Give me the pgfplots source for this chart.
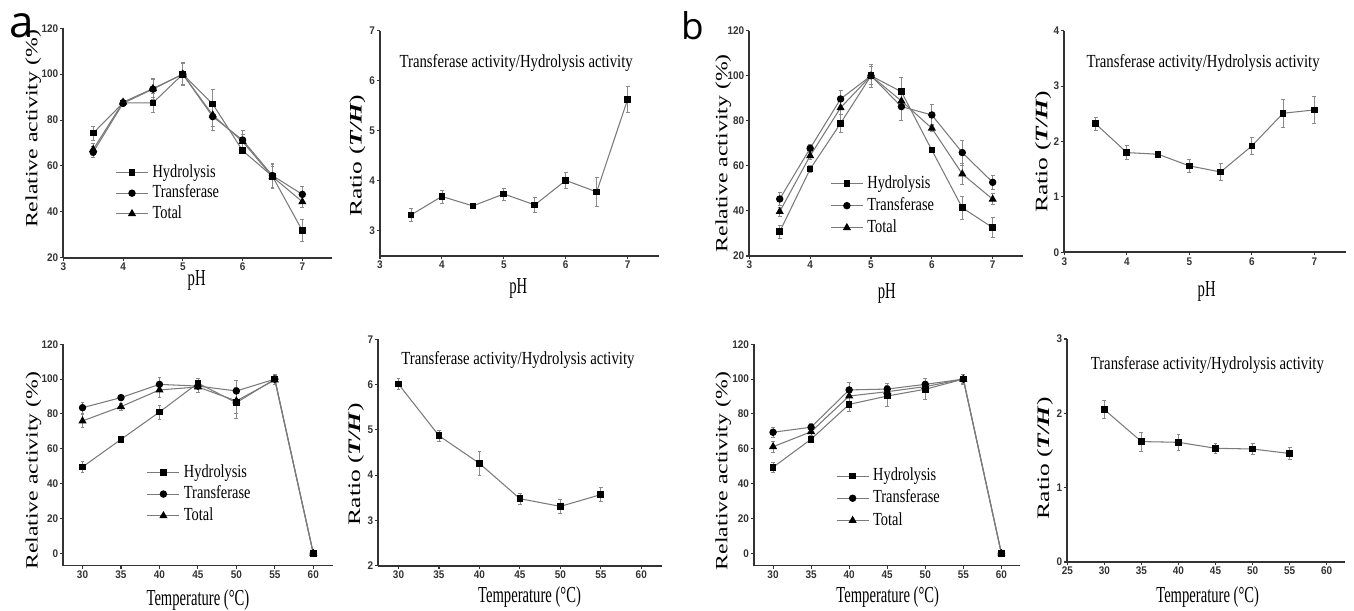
\documentclass[border=0pt]{standalone}
\usepackage{fontspec}
\setmainfont{Liberation Serif}
\newfontfamily\xlabfont{Liberation Serif}[FakeStretch=0.64]
\newfontfamily\titlefont{Liberation Serif}[FakeStretch=0.8]
\newfontfamily\legfont{Liberation Serif}[FakeStretch=0.78]
\newfontfamily\ylabfont{Liberation Serif}[FakeStretch=1.38]
\newfontfamily\ratiofont{Liberation Serif}[FakeStretch=1.45]
\newfontfamily\tickfont{Liberation Sans}[FakeStretch=0.9]
\newfontfamily\letterfont{Open Sans}
\usepackage{pgfplots}
\pgfplotsset{compat=1.18}

\definecolor{lineGray}{HTML}{7A7A7A}
\definecolor{axisGray}{HTML}{333333}
\definecolor{errGray}{HTML}{8A8A8A}

\pgfplotsset{
  panel/.style={
    scale only axis, anchor=south west,
    axis x line*=bottom, axis y line*=left,
    xtick pos=bottom, ytick pos=left,
    axis line style={line width=1pt, draw=axisGray},
    every tick/.style={line width=0.6pt, draw=axisGray},
    tick align=outside, major tick length=0.06cm,
    tick label style={font=\tickfont\bfseries\fontsize{6.3}{7}\selectfont, text=axisGray},
    /pgf/number format/assume math mode=true,
    xticklabel style={inner sep=1pt},
    yticklabel style={inner sep=1pt},
    clip=false,
  },
  actlab/.style={ylabel={Relative activity (\%)},
    ylabel style={font=\ylabfont\fontsize{9.8}{10}\selectfont, anchor=center}},
  ratiolab/.style={ylabel={Ratio (\textbf{\textit{T/H}})},
    ylabel style={font=\ratiofont\fontsize{10}{11}\selectfont, anchor=center}},
  phlab/.style={xlabel={pH},
    xlabel style={font=\xlabfont\fontsize{13}{14}\selectfont, anchor=center}},
  templab/.style={xlabel={Temperature (°C)},
    xlabel style={font=\xlabfont\fontsize{13}{14}\selectfont, anchor=center}},
  leg/.style={
    legend cell align=left,
    legend image code/.code={\draw[mark repeat=2,mark phase=2]
      plot coordinates {(0cm,0cm) (0.32cm,0cm) (0.64cm,0cm)};},
    legend style={draw=none, fill=none, inner sep=0pt, anchor=north west,
      column sep=0.08cm,
      nodes={inner sep=0pt, text height=7.5pt, text depth=2.2pt,
             font=\legfont\fontsize{10.5}{11}\selectfont}},
  },
  series/.style={draw=lineGray, line width=0.6pt,
    mark options={draw=black, fill=black, solid},
    error bars/y dir=both, error bars/y explicit,
    error bars/error bar style={draw=errGray, line width=0.45pt},
    error bars/error mark options={draw=errGray, line width=0.45pt, mark size=1.1pt, rotate=90}},
  hyd/.style={series, mark=square*, mark size=1.6pt},
  tra/.style={series, mark=*, mark size=1.8pt},
  tot/.style={series, mark=triangle*, mark size=2.1pt},
}

\begin{document}
\begin{tikzpicture}
\useasboundingbox (0,0) rectangle (27.08,-12.22);

\node[font=\letterfont\fontsize{25}{25}\selectfont, anchor=center] at (0.44,-0.52) {a};
\node[font=\letterfont\fontsize{21}{21}\selectfont, anchor=center] at (13.86,-0.52) {b};

% ---------------- a: pH activity
\begin{axis}[panel, actlab, phlab, leg,
  at={(1.266cm,-5.154cm)}, width=5.378cm, height=4.588cm,
  xmin=3, xmax=7.5, ymin=20, ymax=120,
  xtick={3,4,5,6,7}, ytick={20,40,60,80,100,120},
  ylabel style={at={(rel axis cs:-0.112,0.561)}},
  xlabel style={at={(rel axis cs:0.496,0)}, yshift=-0.446cm},
  legend style={at={(axis cs:3.867,60.93)}, row sep=0.069cm},
]
\addplot[hyd] coordinates {
  (3.5,74.3) +- (0,3) (4,87.5) +- (0,1.5) (4.5,87.5) +- (0,4) (5,100) +- (0,5)
  (5.5,87) +- (0,6.4) (6,66.7) +- (0,1.2) (6.5,55.5) +- (0,5.5) (7,31.8) +- (0,4.7)};
\addplot[tra] coordinates {
  (3.5,66) +- (0,2.4) (4,87.3) +- (0,1.2) (4.5,93.5) +- (0,4.7) (5,100) +- (0,5)
  (5.5,81.5) +- (0,5.8) (6,71.3) +- (0,4.4) (6.5,55.8) +- (0,5) (7,47.6) +- (0,3.4)};
\addplot[tot] coordinates {
  (3.5,67.2) +- (0,2.5) (4,87.8) +- (0,1.2) (4.5,93.7) +- (0,4) (5,100) +- (0,4.5)
  (5.5,82.2) +- (0,5) (6,70.6) +- (0,3) (6.5,55.3) +- (0,4.5) (7,44.4) +- (0,2.5)};
\legend{Hydrolysis,Transferase,Total}
\end{axis}

% ---------------- a: pH ratio
\begin{axis}[panel, ratiolab, phlab,
  at={(7.6cm,-5.12cm)}, width=5.572cm, height=4.506cm,
  xmin=3, xmax=7.5, ymin=2.5, ymax=7,
  xtick={3,4,5,6,7}, ytick={3,4,5,6,7},
  ylabel style={at={(rel axis cs:-0.081,0.445)}},
  xlabel style={at={(rel axis cs:0.496,0)}, yshift=-0.64cm},
]
\addplot[hyd] coordinates {
  (3.5,3.32) +- (0,0.13) (4,3.69) +- (0,0.13) (4.5,3.50) +- (0,0.05) (5,3.74) +- (0,0.12)
  (5.5,3.52) +- (0,0.15) (6,4.01) +- (0,0.16) (6.5,3.78) +- (0,0.29) (7,5.63) +- (0,0.26)};
\node[font=\titlefont\fontsize{10.5}{11}\selectfont] at (axis cs:5.2,6.355)
  {Transferase activity/Hydrolysis activity};
\end{axis}

% ---------------- a: temperature activity
\begin{axis}[panel, actlab, templab, leg,
  at={(1.266cm,-11.31cm)}, width=5.384cm, height=4.424cm,
  xmin=27.5, xmax=62.5, ymin=-7, ymax=120,
  xtick={30,35,...,60}, ytick={0,20,...,120},
  ylabel style={at={(rel axis cs:-0.111,0.428)}},
  xlabel style={at={(rel axis cs:0.5,0)}, yshift=-0.7cm},
  legend style={at={(axis cs:38.32,51.57)}, row sep=0.093cm},
]
\addplot[hyd] coordinates {
  (30,49.6) +- (0,3) (35,65.4) +- (0,1) (40,81.1) +- (0,4) (45,97.7) +- (0,3)
  (50,86.5) +- (0,9) (55,100) +- (0,3) (60,0) +- (0,0)};
\addplot[tra] coordinates {
  (30,83.6) +- (0,3) (35,89.4) +- (0,1.5) (40,97) +- (0,4) (45,96) +- (0,3.5)
  (50,93.2) +- (0,6) (55,100) +- (0,3) (60,0) +- (0,0)};
\addplot[tot] coordinates {
  (30,76) +- (0,3.5) (35,84.2) +- (0,2) (40,93.8) +- (0,4.5) (45,95.5) +- (0,3)
  (50,87.5) +- (0,7) (55,99.5) +- (0,2.5) (60,0) +- (0,0)};
\legend{Hydrolysis,Transferase,Total}
\end{axis}

% ---------------- a: temperature ratio
\begin{axis}[panel, ratiolab, templab,
  at={(7.566cm,-11.314cm)}, width=5.664cm, height=4.528cm,
  xmin=27.5, xmax=62.5, ymin=2, ymax=7,
  xtick={30,35,...,60}, ytick={2,3,4,5,6,7},
  ylabel style={at={(rel axis cs:-0.079,0.448)}},
  xlabel style={at={(rel axis cs:0.534,0)}, yshift=-0.62cm},
]
\addplot[hyd] coordinates {
  (30,6.01) +- (0,0.12) (35,4.87) +- (0,0.12) (40,4.26) +- (0,0.27)
  (45,3.48) +- (0,0.12) (50,3.31) +- (0,0.15) (55,3.57) +- (0,0.15)};
\node[font=\titlefont\fontsize{10.5}{11}\selectfont] at (axis cs:44.76,6.54)
  {Transferase activity/Hydrolysis activity};
\end{axis}

% ---------------- b: pH activity
\begin{axis}[panel, actlab, phlab, leg,
  at={(14.986cm,-5.12cm)}, width=5.476cm, height=4.506cm,
  xmin=3, xmax=7.5, ymin=20, ymax=120,
  xtick={3,4,5,6,7}, ytick={20,40,60,80,100,120},
  ylabel style={at={(rel axis cs:-0.095,0.456)}},
  xlabel style={at={(rel axis cs:0.502,0)}, yshift=-0.746cm},
  legend style={at={(axis cs:4.326,56.04)}, row sep=0.099cm},
]
\addplot[hyd] coordinates {
  (3.5,30.8) +- (0,3) (4,58.6) +- (0,1.5) (4.5,78.9) +- (0,4) (5,100) +- (0,5)
  (5.5,92.9) +- (0,6.5) (6,67) +- (0,1) (6.5,41.4) +- (0,5) (7,32.6) +- (0,4.5)};
\addplot[tra] coordinates {
  (3.5,45.3) +- (0,3) (4,67.8) +- (0,1.8) (4.5,89.7) +- (0,4) (5,100) +- (0,5)
  (5.5,86.3) +- (0,6) (6,82.6) +- (0,4.5) (6.5,65.9) +- (0,5.5) (7,52.7) +- (0,3)};
\addplot[tot] coordinates {
  (3.5,39.7) +- (0,2) (4,64.5) +- (0,1.5) (4.5,85.8) +- (0,3) (5,100) +- (0,4)
  (5.5,88.8) +- (0,3) (6,76.7) +- (0,1.5) (6.5,56.4) +- (0,4.5) (7,45.2) +- (0,2.5)};
\legend{Hydrolysis,Transferase,Total}
\end{axis}

% ---------------- b: pH ratio
\begin{axis}[panel, ratiolab, phlab,
  at={(21.286cm,-5.046cm)}, width=5.626cm, height=4.432cm,
  xmin=3, xmax=7.5, ymin=0, ymax=4,
  xtick={3,4,5,6,7}, ytick={0,1,2,3,4},
  ylabel style={at={(rel axis cs:-0.075,0.454)}},
  xlabel style={at={(rel axis cs:0.506,0)}, yshift=-0.786cm},
]
\addplot[hyd] coordinates {
  (3.5,2.32) +- (0,0.12) (4,1.80) +- (0,0.13) (4.5,1.77) +- (0,0.06) (5,1.56) +- (0,0.12)
  (5.5,1.45) +- (0,0.15) (6,1.92) +- (0,0.15) (6.5,2.51) +- (0,0.25) (7,2.57) +- (0,0.25)};
\node[font=\titlefont\fontsize{10.5}{11}\selectfont] at (axis cs:5.22,3.41)
  {Transferase activity/Hydrolysis activity};
\end{axis}

% ---------------- b: temperature activity
\begin{axis}[panel, actlab, templab, leg,
  at={(15.08cm,-11.31cm)}, width=5.328cm, height=4.424cm,
  xmin=27.5, xmax=62.5, ymin=-7, ymax=120,
  xtick={30,35,...,60}, ytick={0,20,...,120},
  ylabel style={at={(rel axis cs:-0.115,0.427)}},
  xlabel style={at={(rel axis cs:0.502,0)}, yshift=-0.634cm},
  legend style={at={(axis cs:38.24,49.45)}, row sep=0.103cm},
]
\addplot[hyd] coordinates {
  (30,49.4) +- (0,3) (35,65.5) +- (0,1) (40,85.5) +- (0,4) (45,90.3) +- (0,6)
  (50,94.2) +- (0,6) (55,100) +- (0,3) (60,0) +- (0,0)};
\addplot[tra] coordinates {
  (30,69.5) +- (0,3) (35,72.4) +- (0,2) (40,93.8) +- (0,4.5) (45,94.3) +- (0,3.5)
  (50,97) +- (0,3.5) (55,100) +- (0,3) (60,0) +- (0,0)};
\addplot[tot] coordinates {
  (30,61.2) +- (0,3) (35,69.8) +- (0,2) (40,90.3) +- (0,4) (45,92.8) +- (0,3)
  (50,95.7) +- (0,3) (55,100) +- (0,2.5) (60,0) +- (0,0)};
\legend{Hydrolysis,Transferase,Total}
\end{axis}

% ---------------- b: temperature ratio
\begin{axis}[panel, ratiolab, templab,
  at={(21.346cm,-11.24cm)}, width=5.558cm, height=4.46cm,
  xmin=25, xmax=62.5, ymin=0, ymax=3,
  xtick={25,30,...,60}, ytick={0,1,2,3},
  ylabel style={at={(rel axis cs:-0.081,0.465)}},
  xlabel style={at={(rel axis cs:0.505,0)}, yshift=-0.694cm},
]
\addplot[hyd] coordinates {
  (30,2.05) +- (0,0.12) (35,1.62) +- (0,0.13) (40,1.61) +- (0,0.11)
  (45,1.53) +- (0,0.07) (50,1.52) +- (0,0.07) (55,1.46) +- (0,0.08)};
\node[font=\titlefont\fontsize{10.5}{11}\selectfont] at (axis cs:43.9,2.65)
  {Transferase activity/Hydrolysis activity};
\end{axis}
\end{tikzpicture}
\end{document}
